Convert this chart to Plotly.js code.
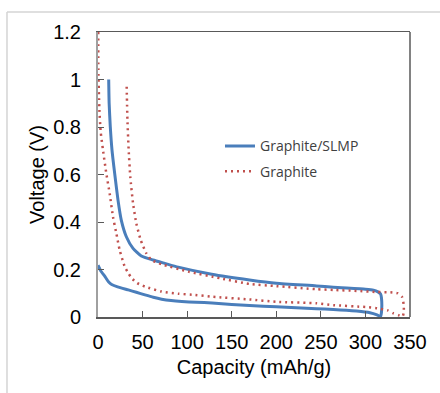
<!DOCTYPE html>
<html>
<head>
<meta charset="utf-8">
<script src="https://cdn.plot.ly/plotly-3.0.1.min.js"></script>
<style>
html,body{margin:0;padding:0;background:#fff;}
#chart{width:440px;height:393px;}
</style>
</head>
<body>
<div id="chart"></div>
<script>
// Graphite/SLMP: lithiation then delithiation (capacity mAh/g, voltage V)
var slmpX = [0,3,7.9,12,15.3,22,34,43,52.7,62,71.4,82,94,110,128,150,170,200,245,264,290,305,313,317,
             318,318,317,314,309,
             300,264,245,200,170,127.5,90,74.8,61.7,48.6,39.3,31.8,26.1,22.4,18.7,15.7,13.8,12.5,12];
var slmpY = [0.218,0.195,0.170,0.147,0.137,0.127,0.114,0.104,0.093,0.083,0.075,0.069,0.065,0.062,0.059,0.053,0.048,0.043,0.035,0.032,0.025,0.018,0.009,0.002,
             0.020,0.080,0.097,0.106,0.113,
             0.117,0.125,0.131,0.142,0.156,0.180,0.210,0.226,0.240,0.257,0.289,0.338,0.408,0.493,0.605,0.703,0.800,0.900,1.000];
// Graphite
var grX = [0.3,0.4,1.5,3,5.6,9.3,13.1,16.8,20.6,24.3,30,34,37.8,44,52.7,71.4,90,109,129,170,200,245,264,300,313,325,331,337,341.7,
           343,343,341,336,328,313,290,264,245,200,170,137,101.3,71.4,59.8,54.2,47.9,43,39.3,36.2,34.4,33,32.1];
var grY = [1.2,1.04,0.88,0.78,0.703,0.605,0.520,0.422,0.352,0.282,0.212,0.185,0.163,0.143,0.128,0.107,0.098,0.093,0.085,0.074,0.064,0.058,0.050,0.042,0.037,0.028,0.016,0.008,0.002,
           0.020,0.050,0.085,0.100,0.104,0.105,0.110,0.114,0.117,0.130,0.139,0.163,0.191,0.222,0.240,0.268,0.324,0.394,0.479,0.591,0.703,0.830,0.984];
var seriesNames = ["Graphite/SLMP", "Graphite"];
var xTicks = [0,50,100,150,200,250,300,350];
var yTicks = [0,0.2,0.4,0.6,0.8,1,1.2];

var traces = [
  {x: slmpX, y: slmpY, name: seriesNames[0], mode: 'lines', legendgroup: 'a',
   line: {color: '#4a7ebb', width: 3, shape: 'spline', smoothing: 0.5}},
  {x: grX, y: grY, name: seriesNames[1], mode: 'lines', legendgroup: 'b',
   line: {color: '#c0504d', width: 2.5, dash: '2px,4px', shape: 'spline', smoothing: 0.5}}
];

var tickFont = {family: 'Liberation Sans, Arial, sans-serif', size: 20, color: '#000'};
var layout = {
  width: 440, height: 393,
  margin: {l: 98, r: 30, t: 32, b: 76},
  paper_bgcolor: '#fff', plot_bgcolor: '#fff',
  showlegend: true,
  legend: {x: 0.391, y: 0.655, xanchor: 'left', yanchor: 'top', bgcolor: 'rgba(0,0,0,0)',
           traceorder: 'grouped', tracegroupgap: 4,
           font: {family: 'Open Sans, sans-serif', size: 14, color: '#404040'}},
  xaxis: {range: [0, 350], tickvals: xTicks, ticks: 'inside', ticklen: 6, tickcolor: '#595959', tickwidth: 1,
          showgrid: false, zeroline: false, showline: true, linecolor: '#595959', linewidth: 1.5, mirror: true,
          tickfont: tickFont, ticklabelstandoff: 6,
          title: {text: 'Capacity (mAh/g)', font: tickFont, standoff: 8}},
  yaxis: {range: [0, 1.2], tickvals: yTicks, ticks: 'inside', ticklen: 6, tickcolor: '#595959', tickwidth: 1,
          showgrid: false, zeroline: false, showline: true, linecolor: '#a0a0a0', linewidth: 2, mirror: false,
          tickfont: tickFont, ticklabelstandoff: 11,
          title: {text: 'Voltage (V)', font: tickFont, standoff: 3}},
  shapes: [
    {type: 'line', xref: 'paper', yref: 'paper', x0: 1, x1: 1, y0: 0, y1: 1, line: {color: '#595959', width: 1.5}},
    {type: 'line', xref: 'paper', yref: 'paper', x0: -0.2917, x1: 1.2, y0: 1.0702, y1: 1.0702, line: {color: '#d4d4d4', width: 1.5}},
    {type: 'line', xref: 'paper', yref: 'paper', x0: -0.2917, x1: -0.2917, y0: 1.0702, y1: -0.3, line: {color: '#d4d4d4', width: 1.5}}
  ]
};
Plotly.newPlot('chart', traces, layout, {displayModeBar: false, staticPlot: true});
</script>
</body>
</html>
